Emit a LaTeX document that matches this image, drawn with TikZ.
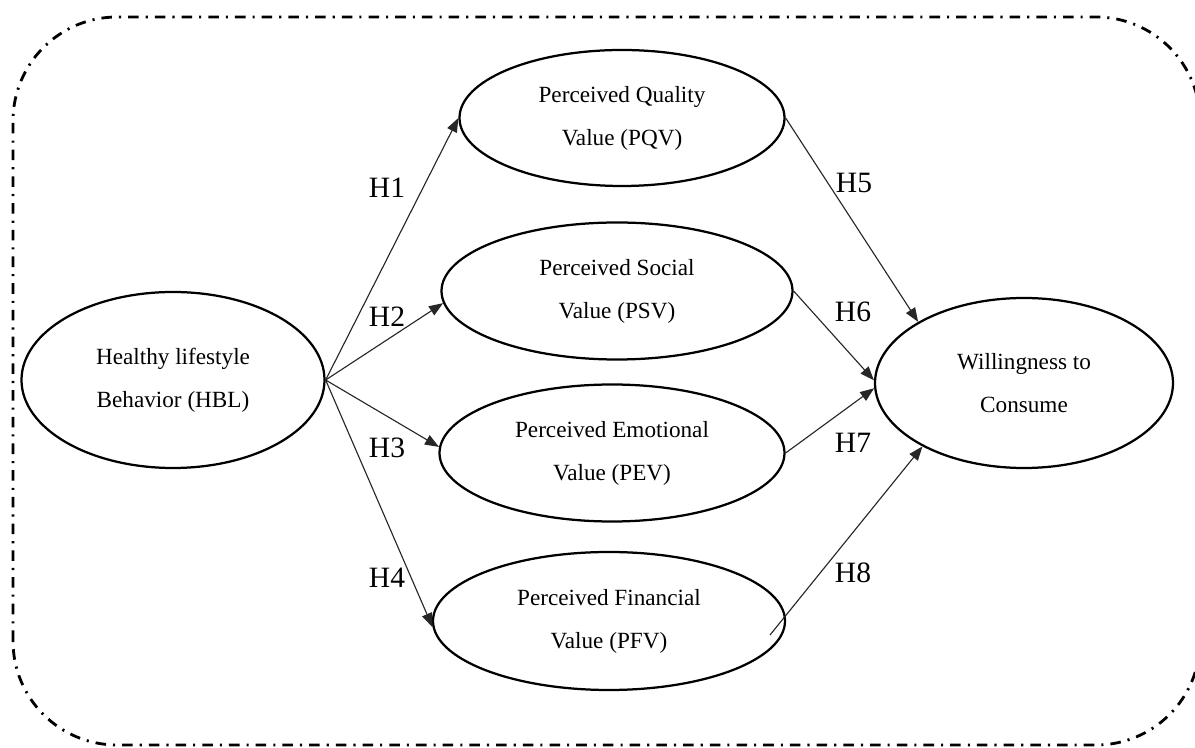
\documentclass[tikz,border=0pt]{standalone}
\usepackage{fontspec}
\setmainfont{Liberation Serif}
\usetikzlibrary{shapes.geometric,arrows.meta}

\begin{document}
\begin{tikzpicture}[
    construct/.style={ellipse, draw, line width=1.6pt, align=center,
      font=\fontsize{16.5}{30.5}\selectfont},
    path/.style={-{Triangle[length=10pt,width=7.5pt]}, line width=0.8pt, black!85},
    hyp/.style={font=\fontsize{21}{24}\selectfont, inner sep=0pt},
    frame/.style={line width=2pt, rounded corners=2.6cm,
      dash pattern=on 7.5pt off 5pt on 1.5pt off 5pt}
  ]
  \useasboundingbox (0,0) rectangle (29.875,18.675);

  % Outer frame
  \draw[frame] (0.325,0.05) rectangle (30.0,18.25);

  % Constructs
  \node[construct, minimum width=7.575cm, minimum height=4.4cm] (hbl) at (4.325,9.175)
    {Healthy lifestyle\\Behavior (HBL)};
  \node[construct, minimum width=8.125cm, minimum height=3.4cm] (pqv) at (15.55,15.725)
    {Perceived Quality\\Value (PQV)};
  \node[construct, minimum width=8.775cm, minimum height=3.425cm] (psv) at (15.425,11.4)
    {Perceived Social\\Value (PSV)};
  \node[construct, minimum width=8.625cm, minimum height=3.425cm] (pev) at (15.3,7.35)
    {Perceived Emotional\\Value (PEV)};
  \node[construct, minimum width=8.8cm, minimum height=3.45cm] (pfv) at (15.225,3.15)
    {Perceived Financial\\Value (PFV)};
  \node[construct, minimum width=7.45cm, minimum height=4.25cm] (wtc) at (25.6,9.1)
    {Willingness to\\Consume};

  % Paths from HBL
  \draw[path] (hbl.east) -- (pqv.west);
  \draw[path] (hbl.east) -- (psv.184);
  \draw[path] (hbl.east) -- (pev.178);
  \draw[path] (hbl.east) -- (pfv.182);

  % Paths to willingness
  \coordinate (pfvout) at (19.25,2.8);
  \draw[path] (pqv.east) -- (wtc.150);
  \draw[path] (psv.east) -- (wtc.179);
  \draw[path] (pev.east) -- (wtc.182);
  \draw[path] (pfvout) -- (wtc.212);

  % Hypotheses
  \node[hyp] (h1) at (9.675,13.975) {H1};
  \node[hyp] (h2) at (9.675,10.75) {H2};
  \node[hyp] (h3) at (9.675,7.475) {H3};
  \node[hyp] (h4) at (9.675,4.225) {H4};
  \node[hyp] (h5) at (21.35,14.1) {H5};
  \node[hyp] (h6) at (21.325,10.875) {H6};
  \node[hyp] (h7) at (21.325,7.6) {H7};
  \node[hyp] (h8) at (21.325,4.35) {H8};

\end{tikzpicture}
\end{document}
